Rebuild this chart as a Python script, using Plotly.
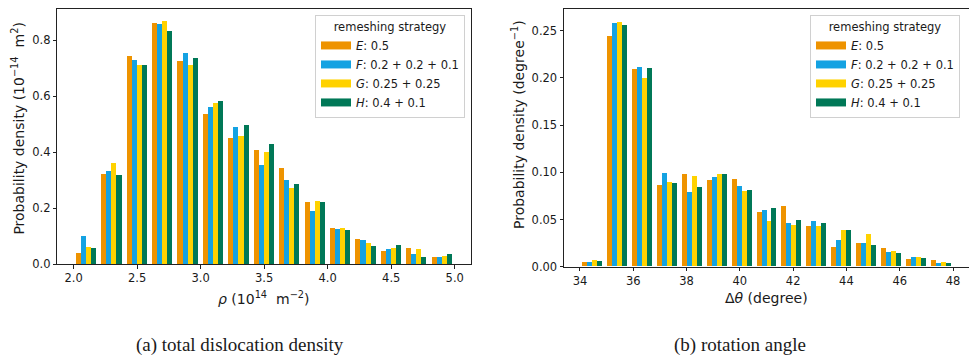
import plotly.graph_objects as go

# ---------------- data ----------------
series_names = ["<i>E</i>: 0.5", "<i>F</i>: 0.2 + 0.2 + 0.1", "<i>G</i>: 0.25 + 0.25", "<i>H</i>: 0.4 + 0.1"]
series_colors = ["#EE9300", "#14A2E2", "#FFD200", "#007857"]

# (a) total dislocation density, bin centres (10^14 m^-2)
rho_centers = [2.1, 2.3, 2.5, 2.7, 2.9, 3.1, 3.3, 3.5, 3.7, 3.9, 4.1, 4.3, 4.5, 4.7, 4.9]
rho_E = [0.038, 0.319, 0.743, 0.860, 0.723, 0.536, 0.451, 0.408, 0.343, 0.219, 0.129, 0.087, 0.044, 0.055, 0.023]
rho_F = [0.098, 0.331, 0.729, 0.856, 0.752, 0.561, 0.489, 0.352, 0.299, 0.189, 0.125, 0.083, 0.051, 0.036, 0.023]
rho_G = [0.060, 0.360, 0.710, 0.867, 0.712, 0.573, 0.455, 0.399, 0.271, 0.225, 0.129, 0.073, 0.057, 0.054, 0.029]
rho_H = [0.055, 0.317, 0.712, 0.830, 0.737, 0.581, 0.496, 0.427, 0.286, 0.221, 0.121, 0.064, 0.068, 0.024, 0.036]

# (b) rotation angle, bin centres (degree)
theta_centers = [34.467, 35.4, 36.333, 37.267, 38.2, 39.133, 40.067, 41.0,
                 41.933, 42.867, 43.8, 44.733, 45.667, 46.6, 47.533]
theta_E = [0.0046, 0.2440, 0.2090, 0.0865, 0.0975, 0.0911, 0.0922, 0.0576, 0.0636, 0.0428, 0.0201, 0.0248, 0.0191, 0.0078, 0.0071]
theta_F = [0.0050, 0.2575, 0.2108, 0.0993, 0.0788, 0.0950, 0.0847, 0.0597, 0.0456, 0.0484, 0.0283, 0.0244, 0.0156, 0.0103, 0.0039]
theta_G = [0.0064, 0.2590, 0.1996, 0.0897, 0.0958, 0.0982, 0.0802, 0.0484, 0.0434, 0.0424, 0.0389, 0.0343, 0.0166, 0.0103, 0.0050]
theta_H = [0.0060, 0.2553, 0.2105, 0.0883, 0.0841, 0.0982, 0.0812, 0.0614, 0.0495, 0.0460, 0.0389, 0.0226, 0.0142, 0.0089, 0.0039]

rho_ticks = [2.0, 2.5, 3.0, 3.5, 4.0, 4.5, 5.0]
rho_yticks = [0.0, 0.2, 0.4, 0.6, 0.8]
theta_ticks = [34, 36, 38, 40, 42, 44, 46, 48]
theta_yticks = [0.0, 0.05, 0.10, 0.15, 0.20, 0.25]

rho_series = [rho_E, rho_F, rho_G, rho_H]
theta_series = [theta_E, theta_F, theta_G, theta_H]

# ---------------- figure ----------------
fig = go.Figure()

rho_bw = (rho_centers[1] - rho_centers[0]) * 0.2
theta_bw = (theta_centers[1] - theta_centers[0]) * 0.2

for i in range(4):
    fig.add_trace(go.Bar(
        x=rho_centers, y=rho_series[i], name=series_names[i],
        width=rho_bw, offset=(i - 2) * rho_bw,
        marker=dict(color=series_colors[i], line=dict(width=0)),
        xaxis="x", yaxis="y", showlegend=False,
    ))
for i in range(4):
    fig.add_trace(go.Bar(
        x=theta_centers, y=theta_series[i], name=series_names[i],
        width=theta_bw, offset=(i - 2) * theta_bw,
        marker=dict(color=series_colors[i], line=dict(width=0)),
        xaxis="x2", yaxis="y2", showlegend=False,
    ))

# legend entries (wide patch-like swatches, no data drawn)
for leg, xa, ya in (("legend", "x", "y"), ("legend2", "x2", "y2")):
    for i in range(4):
        fig.add_trace(go.Scatter(
            x=[None], y=[None], mode="lines", name=series_names[i],
            line=dict(color=series_colors[i], width=8),
            xaxis=xa, yaxis=ya, legend=leg, showlegend=True, hoverinfo="skip",
        ))

W, H = 969, 356
tickfont = dict(family="DejaVu Sans", size=11.5, color="#1a1a1a")
axcommon = dict(showgrid=False, zeroline=False, showline=True, linecolor="#222",
                linewidth=1, ticks="outside", ticklen=3.5, tickwidth=0.8,
                tickcolor="#222", tickfont=tickfont, automargin=False)

legend_common = dict(
    bgcolor="rgba(255,255,255,0.85)", bordercolor="#d0d0d0", borderwidth=1,
    font=dict(family="DejaVu Sans", size=11.5, color="#1a1a1a"),
    title=dict(text="remeshing strategy", side="top center",
               font=dict(family="DejaVu Sans", size=11.5, color="#1a1a1a")),
    xanchor="right", yanchor="top", tracegroupgap=0, itemwidth=30,
)

fig.update_layout(
    width=W, height=H,
    margin=dict(l=0, r=0, t=0, b=0, pad=0),
    paper_bgcolor="white", plot_bgcolor="white",
    barmode="overlay", bargap=0,
    xaxis=dict(domain=[57.3 / W, 471 / W], range=[1.872, 5.128], anchor="y",
               tickvals=rho_ticks, ticktext=[f"{v:.1f}" for v in rho_ticks],
               mirror=True, **axcommon),
    yaxis=dict(domain=[(H - 264) / H, (H - 9.3) / H], range=[0, 0.9104], anchor="x",
               tickvals=rho_yticks, ticktext=[f"{v:.1f}" for v in rho_yticks],
               mirror=True, **axcommon),
    xaxis2=dict(domain=[564 / W, 1.0], range=[33.4, 48.6], anchor="y2",
                tickvals=theta_ticks, ticktext=[str(v) for v in theta_ticks],
                mirror=True, **axcommon),
    yaxis2=dict(domain=[(H - 266.7) / H, (H - 9.3) / H], range=[0, 0.2727], anchor="x2",
                tickvals=theta_yticks, ticktext=[f"{v:.2f}" for v in theta_yticks],
                mirror=False, **axcommon),
    legend=dict(x=465 / W, y=(H - 15) / H, **legend_common),
    legend2=dict(x=960 / W, y=(H - 15) / H, **legend_common),
    showlegend=True,
)

title_font = dict(family="DejaVu Sans", size=14, color="#1a1a1a")
caption_font = dict(family="Liberation Serif", size=19, color="#1a1a1a")

annotations = [
    dict(text="Probability density (10<sup>−14</sup>  m<sup>2</sup>)", x=18 / W, y=(H - 128.6) / H,
         textangle=-90, font=title_font),
    dict(text="<i>ρ</i> (10<sup>14</sup>  m<sup>−2</sup>)", x=264 / W, y=(H - 298) / H, font=title_font),
    dict(text="Probability density (degree<sup>−1</sup>)", x=518 / W, y=(H - 125) / H,
         textangle=-90, font=title_font),
    dict(text="Δ<i>θ</i> (degree)", x=766.5 / W, y=(H - 298) / H, font=title_font),
    dict(text="(a) total dislocation density", x=240 / W, y=(H - 345) / H, font=caption_font),
    dict(text="(b) rotation angle", x=739.7 / W, y=(H - 345) / H, font=caption_font),
]
for a in annotations:
    a.update(xref="paper", yref="paper", showarrow=False, xanchor="center", yanchor="middle")
fig.update_layout(annotations=annotations)

fig.write_html("out.html")
